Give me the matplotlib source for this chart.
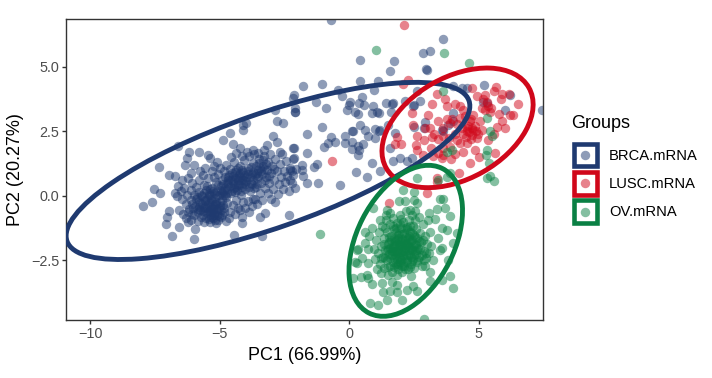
# PCA scatter with group ellipses
import matplotlib
matplotlib.use('Agg')
import matplotlib.pyplot as plt
import numpy as np
from matplotlib.legend_handler import HandlerBase
from matplotlib.lines import Line2D
from matplotlib.patches import Ellipse, Rectangle

plt.rcParams['font.family'] = ['Liberation Sans', 'DejaVu Sans']

groups = ['BRCA.mRNA', 'LUSC.mRNA', 'OV.mRNA']
colors = ['#1F3A70', '#D0071A', '#0A8044']

# values (PC1, PC2)
brca_sparse = [
    (-7.94, -0.39), (-7.61, -0.23), (-7.53, 0.28), (-7.35, 1.11), (-7.30, 0.13), (-6.95, 0.83),
    (-6.71, 0.77), (-6.59, 1.94), (-6.17, 1.72), (-5.78, 1.69), (-6.27, 1.46), (-6.33, 1.20),
    (-5.99, 1.20), (-5.43, 1.59), (-5.37, 1.46), (-4.85, 2.17), (-4.60, 2.43), (-4.49, 2.01),
    (-4.11, 2.75), (-3.98, 2.84), (-4.08, 2.56), (-4.21, 1.85), (-3.18, 1.98), (-2.92, 2.32),
    (-2.77, 2.10), (-2.79, 2.92), (-2.54, 2.84), (-2.86, 3.33), (-2.09, 3.27), (-2.67, 1.72),
    (-2.15, 1.85), (-7.07, -1.09), (-7.02, -0.80), (-6.96, -0.58), (-6.57, -1.19), (-6.82, -1.54),
    (-5.97, -1.68), (-5.94, -1.29), (-6.20, -1.00), (-4.44, -1.53), (-3.35, -1.55), (-4.15, -1.06),
    (-4.15, -0.80), (-3.44, -0.80), (-3.25, -0.67), (-2.31, -0.74),
]
brca_dense = [
    (-6.72, 0.10), (-6.65, -0.02), (-6.50, 0.18), (-6.44, -0.12), (-6.38, 0.30), (-6.30, -0.30),
    (-6.25, 0.05), (-6.18, -0.52), (-6.12, 0.22), (-6.10, -0.15), (-6.05, -0.70), (-6.00, 0.02),
    (-5.95, -0.38), (-5.90, 0.35), (-5.88, -0.05), (-5.82, -0.62), (-5.78, 0.15), (-5.75, -0.28),
    (-5.70, -0.80), (-5.66, 0.00), (-5.62, -0.48), (-5.60, 0.42), (-5.55, -0.15), (-5.52, 0.22),
    (-5.50, -0.68), (-5.46, -0.32), (-5.42, 0.05), (-5.40, -0.88), (-5.36, -0.55), (-5.32, -0.10),
    (-5.30, 0.30), (-5.26, -0.38), (-5.22, -0.75), (-5.20, 0.12), (-5.15, -0.22), (-5.12, 0.55),
    (-5.10, -0.60), (-5.06, -0.92), (-5.02, 0.02), (-5.00, -0.40), (-4.96, 0.38), (-4.92, -0.15),
    (-4.90, -0.72), (-4.85, 0.20), (-4.82, -0.48), (-4.78, 0.72), (-4.74, -0.05), (-4.70, -0.28),
    (-4.66, 0.45), (-4.60, -0.62), (-4.56, 0.10), (-4.52, 0.88), (-4.48, -0.35), (-4.44, 0.30),
    (-6.40, -0.70), (-6.55, -0.55), (-6.28, -0.85), (-6.10, -0.95), (-5.85, -0.98), (-5.60, -1.02),
    (-5.35, -1.00), (-5.15, -1.05), (-6.05, 0.50), (-6.20, 0.70), (-5.80, 0.62), (-5.65, 0.80),
    (-5.45, 0.70), (-5.30, 0.95), (-5.22, 0.72), (-5.05, 0.85), (-4.98, 1.10), (-4.90, 0.62),
    (-4.82, 0.95), (-4.75, 1.20), (-4.68, 0.60), (-4.62, 0.82), (-4.58, 1.05), (-4.50, 0.55),
    (-4.46, 1.32), (-4.42, 0.70), (-4.38, 1.00), (-4.34, 0.22), (-4.30, 0.48), (-4.26, 0.80),
    (-4.22, 1.18), (-4.18, 0.05), (-4.15, 0.35), (-4.12, 0.62), (-4.08, 0.92), (-4.04, 1.38),
    (-4.00, 0.45), (-3.96, 0.72), (-3.92, 1.08), (-3.88, 1.55), (-3.84, 0.18), (-3.80, 0.52),
    (-3.76, 0.85), (-3.72, 1.28), (-3.68, 1.62), (-3.64, -0.10), (-3.60, 0.35), (-3.56, 0.68),
    (-3.52, 1.02), (-3.48, 1.42), (-3.44, 0.12), (-3.40, 0.50), (-3.36, 0.85), (-3.32, 1.18),
    (-3.28, 1.55), (-3.24, 0.30), (-3.20, 0.72), (-3.16, 1.02), (-3.12, 1.32), (-3.08, 0.52),
    (-3.04, 1.62), (-3.00, 0.88), (-2.96, 1.18), (-2.92, 0.25), (-2.88, 0.62), (-2.84, 1.42),
    (-2.80, 0.95), (-2.76, 0.08), (-2.72, 0.45), (-2.68, 1.22), (-2.62, 0.72), (-2.58, 1.62),
    (-2.54, 0.28), (-2.50, 0.95), (-2.46, 0.55), (-2.42, 1.35), (-2.38, 0.78), (-2.32, 0.18),
    (-2.28, 1.10), (-2.22, 0.52), (-2.18, 1.45), (-2.15, 0.82), (-2.10, 0.30), (-2.05, 1.05),
    (-3.92, -0.20), (-3.75, -0.38), (-4.40, -0.70), (-4.75, -0.98), (-4.62, -0.85), (-4.30, -0.45),
    (-4.10, -0.25), (-5.72, 0.05), (-5.48, -0.45), (-5.58, -0.20), (-5.28, -0.62), (-5.18, -0.30),
    (-5.40, 0.12), (-5.08, 0.18), (-4.88, 0.05), (-4.70, 0.28), (-4.40, 0.15), (-4.28, 0.62),
    (-4.20, 0.90), (-4.05, 0.60), (-3.90, 0.85), (-3.70, 0.60), (-3.55, 0.90), (-3.42, 1.10),
    (-3.22, 1.25), (-3.10, 0.78), (-2.90, 1.05), (-5.65, -0.60), (-5.38, -0.72), (-5.12, -0.50),
    (-5.25, -0.85), (-4.95, -0.55), (-5.78, -0.42), (-6.02, -0.48), (-6.22, -0.62),
]
brca_core = [
    (-5.80, -0.20), (-5.74, -0.55), (-5.68, -0.30), (-5.64, -0.72), (-5.60, 0.10), (-5.56, -0.42),
    (-5.52, -0.85), (-5.48, -0.12), (-5.44, -0.58), (-5.42, -0.25), (-5.38, 0.02), (-5.34, -0.42),
    (-5.32, -0.80), (-5.28, -0.18), (-5.26, -0.52), (-5.24, 0.18), (-5.20, -0.65), (-5.18, -0.08),
    (-5.16, -0.92), (-5.12, -0.32), (-5.10, -0.72), (-5.08, 0.05), (-5.04, -0.48), (-5.02, -0.78),
    (-4.98, -0.22), (-4.94, -0.82), (-4.92, 0.12), (-4.88, -0.35), (-4.84, -0.62), (-4.80, 0.32),
    (-4.78, 0.02), (-4.72, 0.52), (-4.66, 0.72), (-4.60, 0.38), (-4.56, 0.62), (-4.52, 0.18),
    (-4.48, 0.78), (-4.44, 0.48), (-4.40, 0.92), (-4.36, 0.35), (-4.32, 0.68), (-4.28, 1.08),
    (-4.24, 0.42), (-4.20, 0.72), (-4.16, 0.18), (-4.12, 1.02), (-4.08, 0.50), (-4.04, 0.80),
    (-4.00, 0.25), (-3.96, 0.58), (-3.92, 0.98), (-3.88, 0.35), (-3.84, 0.72), (-3.80, 1.12),
    (-3.76, 0.45), (-3.72, 0.92), (-3.68, 0.30), (-3.64, 0.80), (-3.60, 1.18), (-3.56, 0.48),
    (-3.50, 0.78), (-3.46, 1.28), (-3.40, 0.95), (-3.34, 1.38), (-3.30, 1.05), (-3.26, 0.62),
    (-4.85, 0.48), (-4.95, 0.22), (-5.05, 0.42), (-4.72, 0.12), (-5.50, 0.38), (-5.92, -0.12),
    (-6.08, -0.32), (-5.98, -0.72), (-5.85, -0.52), (-5.35, 0.25),
]
brca_spread = [
    (-4.35, -0.15), (-4.20, -0.55), (-4.02, -0.48), (-3.85, -0.62), (-3.70, -0.12), (-3.55, -0.30),
    (-3.38, -0.15), (-3.12, 0.10), (-3.02, -0.10), (-2.85, -0.25), (-4.55, 1.52), (-4.38, 1.68),
    (-4.15, 1.55), (-3.95, 1.72), (-3.72, 1.78), (-3.50, 1.68), (-3.30, 1.78), (-5.10, 1.32),
    (-5.22, 1.18), (-5.55, 1.08), (-5.75, 0.98), (-6.10, 0.88), (-6.45, 0.62), (-6.60, 0.40),
]
brca_right = [
    (-0.71, 6.83), (3.63, 6.08), (2.87, 5.56), (3.14, 5.62), (0.41, 5.26), (1.74, 5.22),
    (1.59, 4.86), (2.96, 4.93), (3.00, 4.89), (-1.77, 4.26), (-1.06, 4.33), (-2.13, 3.92),
    (-2.15, 3.79), (-2.10, 3.27), (-2.09, 3.40), (-1.28, 3.64), (-0.89, 3.40), (-0.41, 4.11),
    (-0.29, 3.88), (0.42, 4.47), (1.13, 4.44), (0.98, 4.10), (0.49, 3.85), (0.04, 3.64),
    (0.01, 3.53), (-0.07, 3.32), (0.40, 3.61), (0.58, 3.53), (0.24, 3.27), (0.35, 3.17),
    (0.94, 3.47), (0.87, 3.21), (1.07, 3.27), (1.14, 3.20), (1.41, 3.61), (1.65, 3.56),
    (1.68, 3.60), (1.63, 3.27), (2.16, 3.69), (2.46, 3.47), (2.51, 3.51), (2.74, 3.69),
    (2.61, 4.07), (4.03, 4.28), (4.35, 4.20), (4.54, 4.18), (4.03, 3.21), (5.22, 4.31),
    (5.18, 3.66), (5.31, 3.60), (6.21, 3.92), (6.02, 3.34), (7.46, 3.34), (0.42, 2.76),
    (-1.06, 2.67), (-1.64, 2.39), (0.10, 2.52), (0.16, 2.50), (-0.16, 2.34), (0.62, 2.56),
    (0.72, 2.33), (1.00, 2.60), (1.17, 2.52), (1.20, 2.56), (1.52, 2.76), (1.00, 2.24),
    (1.58, 1.85), (0.55, 2.01), (0.10, 2.11), (-0.16, 2.05), (0.36, 1.92), (0.10, 1.81),
    (0.40, 1.79), (0.33, 1.60), (-0.71, 2.27), (-0.80, 2.05), (-0.54, 2.09), (-0.97, 1.88),
    (-2.13, 1.85), (-1.64, 1.68), (-2.13, 1.46), (-1.82, 1.20), (-1.82, 1.01), (-1.77, 0.78),
    (-1.25, 1.24), (-1.35, 1.12), (-2.28, 1.01), (-2.28, 0.62), (-2.22, 0.95), (-1.64, 0.50),
    (-1.19, 0.52), (-0.35, 0.43), (0.27, 0.91), (0.68, 0.74), (0.87, 1.27), (1.20, 0.97),
    (1.71, 1.34), (1.97, 1.46), (2.22, 1.34), (2.42, 1.46), (2.93, 2.86), (2.89, 2.63),
    (2.51, 2.69), (3.64, 2.50), (3.83, 2.76), (4.03, 2.89), (3.58, 2.56), (1.77, 2.43),
]

lusc_points = [
    (2.12, 6.61), (2.26, 4.50), (2.10, 4.33), (3.40, 3.94), (3.70, 3.76), (3.19, 3.56),
    (2.43, 3.21), (3.06, 3.14), (3.77, 3.47), (4.09, 3.56), (4.28, 3.50), (4.41, 3.34),
    (4.73, 4.20), (4.95, 3.87), (5.25, 3.92), (5.67, 4.24), (5.60, 4.05), (5.89, 3.95),
    (5.85, 3.76), (6.19, 3.96), (6.52, 3.57), (5.31, 3.64), (5.38, 3.47), (5.25, 3.34),
    (5.44, 3.27), (5.12, 3.40), (5.50, 3.40), (5.79, 3.17), (6.21, 3.14), (6.32, 3.12),
    (5.89, 2.89), (5.73, 2.69), (6.02, 2.63), (4.80, 3.14), (4.67, 2.89), (4.54, 2.63),
    (5.06, 2.89), (4.28, 3.02), (3.77, 2.99), (3.45, 2.91), (3.90, 2.82), (3.64, 2.63),
    (2.46, 2.76), (2.93, 2.63), (3.12, 2.63), (2.61, 2.34), (2.89, 2.18), (3.19, 2.27),
    (3.45, 2.21), (3.87, 2.24), (4.16, 2.18), (4.54, 2.50), (4.80, 2.56), (5.12, 2.56),
    (4.93, 2.24), (4.73, 2.37), (4.28, 2.05), (4.54, 2.05), (1.84, 2.30), (1.77, 2.00),
    (2.00, 2.02), (2.58, 1.98), (2.61, 1.79), (-0.67, 1.34), (4.39, 1.70), (4.86, 1.79),
    (5.64, 1.68), (4.68, 1.28), (3.94, 1.44), (3.58, 1.46), (3.64, 1.60), (3.25, 1.53),
    (3.45, 1.66), (4.25, 0.87), (3.38, 0.69), (3.40, 0.55), (1.54, -0.28), (3.01, 0.11),
    (5.18, 3.75), (4.48, 3.08), (4.60, 2.72), (4.85, 2.72),
    (4.98, 2.42), (4.40, 2.40), (4.10, 2.42), (3.62, 2.32), (3.30, 2.40), (4.70, 2.20),
    (4.72, 3.00), (4.62, 2.46), (4.75, 2.65), (4.90, 2.50), (4.50, 2.30), (4.35, 2.62),
    (4.18, 2.78), (3.98, 3.00), (3.62, 1.85), (3.90, 1.90), (4.10, 1.62), (5.02, 1.50),
    (5.35, 2.15), (5.58, 2.40), (3.15, 1.85), (2.85, 1.60),
]

ov_points = [
    (1.03, 5.66), (3.67, 5.56), (4.63, 5.17), (3.61, 4.07), (5.31, 3.02), (5.44, 2.50),
    (5.53, 2.33), (5.31, 1.79), (5.27, 1.60), (5.42, 1.27), (5.31, 0.69), (5.44, 0.78),
    (5.60, 0.56), (3.77, 1.72), (3.99, 1.79), (2.61, 0.69), (3.45, 0.62), (3.77, 0.75),
    (3.90, 0.88), (-1.13, -1.47), (2.91, -4.78), (4.00, -3.57), (3.88, -3.10), (3.58, -3.25),
    (0.81, -4.16), (1.13, -4.22), (1.46, -4.05), (2.04, -4.03), (1.33, -3.73), (1.58, -3.68),
    (1.84, -3.73), (2.23, -3.66), (2.46, -3.51), (2.64, -3.68), (3.13, -3.28), (0.17, -3.19),
    (0.47, -3.15), (0.68, -3.06), (0.75, -3.19), (0.88, -3.41), (1.26, -3.38), (1.65, -3.32),
    (1.84, -3.44), (0.30, -2.09), (0.36, -2.06), (0.23, -2.58), (0.49, -2.41), (0.30, -2.60),
    (0.75, -2.60), (0.62, -1.38), (0.88, -1.25), (0.79, -1.57), (0.62, -1.83), (0.75, -2.06),
    (0.94, -0.47), (1.46, -0.54), (1.43, -0.73), (1.58, -0.67), (1.20, -0.93), (1.91, -0.18),
    (2.16, -0.21), (2.49, -0.15), (2.61, -0.28), (2.36, -0.54), (2.55, -0.60), (2.10, 0.24),
    (2.49, 0.15), (3.52, -0.12), (3.64, -0.12), (3.39, -0.51), (3.71, -0.47), (3.07, -0.67),
    (3.90, -0.77), (3.32, -0.90), (3.58, -1.25), (3.77, -1.31), (3.45, -1.64), (4.03, -1.83),
    (4.16, -1.44), (3.58, -2.02), (3.52, -2.09), (3.84, -2.48), (3.26, -2.48), (2.94, -2.73),
    (3.13, -2.93), (2.40, -3.10),
]
ov_dense = [
    (0.95, -2.05), (1.00, -2.45), (1.05, -1.70), (1.08, -2.85), (1.12, -2.20), (1.15, -1.40),
    (1.18, -2.62), (1.22, -1.95), (1.25, -3.00), (1.28, -1.15), (1.30, -2.35), (1.34, -1.62),
    (1.36, -2.78), (1.40, -2.10), (1.42, -0.95), (1.45, -1.40), (1.48, -2.50), (1.50, -3.08),
    (1.52, -1.85), (1.55, -2.25), (1.58, -1.10), (1.60, -2.70), (1.62, -1.55), (1.65, -2.95),
    (1.68, -2.02), (1.70, -0.85), (1.72, -2.40), (1.75, -1.30), (1.78, -1.75), (1.80, -2.62),
    (1.82, -2.15), (1.85, -3.05), (1.86, -1.05), (1.88, -1.52), (1.90, -2.82), (1.92, -1.92),
    (1.94, -2.35), (1.96, -0.75), (1.98, -2.55), (2.00, -1.25), (2.02, -2.05), (2.04, -1.68),
    (2.06, -2.95), (2.08, -2.30), (2.10, -1.02), (2.12, -1.45), (2.14, -2.72), (2.16, -1.85),
    (2.18, -2.15), (2.20, -0.60), (2.22, -2.48), (2.24, -1.22), (2.26, -1.62), (2.28, -2.85),
    (2.30, -1.98), (2.32, -0.92), (2.34, -2.28), (2.36, -1.40), (2.38, -2.62), (2.40, -1.75),
    (2.42, -0.72), (2.44, -2.08), (2.46, -1.15), (2.48, -2.45), (2.50, -1.52), (2.52, -2.78),
    (2.54, -1.88), (2.56, -0.95), (2.58, -2.25), (2.60, -1.30), (2.62, -2.58), (2.64, -1.65),
    (2.66, -2.00), (2.70, -0.82), (2.72, -2.35), (2.74, -1.42), (2.78, -1.80), (2.80, -2.70),
    (2.84, -1.10), (2.88, -2.12), (2.92, -1.55), (2.96, -2.42), (3.00, -1.85), (3.04, -0.95),
    (3.08, -2.22), (3.12, -1.38), (3.18, -1.95), (1.55, -1.60), (1.70, -1.90), (1.85, -2.20),
    (2.00, -2.50), (2.15, -1.70), (2.30, -2.10), (1.65, -2.30), (1.80, -1.40), (1.95, -1.10),
    (2.10, -2.60), (2.25, -1.30), (2.35, -2.75), (1.75, -2.75), (1.60, -2.00), (1.90, -1.65),
    (2.05, -1.95), (2.20, -2.30), (2.45, -1.70), (2.55, -2.15), (1.45, -2.15), (1.35, -1.85),
    (1.70, -1.15), (1.85, -2.45), (2.00, -0.90), (2.15, -2.85), (2.30, -1.55), (2.60, -1.90),
    (1.50, -2.75), (1.40, -1.25), (1.25, -2.40), (2.75, -2.05), (2.85, -1.70), (1.95, -1.85),
    (2.08, -2.15), (1.82, -1.85), (2.22, -1.85), (1.72, -2.12), (2.38, -2.38), (1.88, -2.62),
]
ov_core = [
    (1.50, -2.05), (1.55, -1.80), (1.58, -2.40), (1.62, -1.70), (1.65, -2.15), (1.68, -2.55),
    (1.72, -1.62), (1.75, -1.95), (1.78, -2.30), (1.80, -1.25), (1.84, -1.70), (1.86, -2.70),
    (1.90, -2.08), (1.92, -1.45), (1.95, -2.42), (1.98, -1.75), (2.00, -2.18), (2.03, -1.48),
    (2.06, -2.72), (2.10, -1.82), (2.12, -2.40), (2.15, -1.25), (2.18, -2.02), (2.20, -1.58),
    (2.23, -2.55), (2.26, -1.95), (2.28, -2.30), (2.32, -1.72), (2.35, -1.18), (2.38, -2.00),
    (2.42, -2.52), (2.45, -1.42), (2.48, -1.95), (2.52, -2.30), (2.56, -1.60), (2.62, -2.08),
    (2.68, -2.50), (2.70, -1.75), (2.82, -2.30), (2.88, -2.50), (2.98, -2.20), (1.38, -2.42),
]

# ellipse centre and size in data units
ellipse_center = [(-3.13, 0.97), (4.19, 2.64), (2.19, -1.74)]
ellipse_width = [16.45, 6.33, 6.28]
ellipse_height = [4.43, 3.94, 3.75]
ellipse_angle = [19.35, 29.6, 63.2]

xticks = [-10, -5, 0, 5]
yticks = [-2.5, 0.0, 2.5, 5.0]


class KeyHandler(HandlerBase):
    def create_artists(self, legend, orig_handle, xdescent, ydescent, width, height, fontsize, trans):
        c = orig_handle.get_color()
        side = 16.2
        x0 = -xdescent + width - side
        y0 = -ydescent + height / 2 - side / 2
        box = Rectangle((x0, y0), side, side, facecolor='white',
                        edgecolor=c, linewidth=3.3, transform=trans)
        dot = Line2D([x0 + side / 2], [y0 + side / 2], marker='o', color=c,
                     alpha=0.5, markersize=6.8, markeredgewidth=0, linestyle='None', transform=trans)
        return [box, dot]


fig = plt.figure(figsize=(7.12, 3.78), dpi=100)
ax = fig.add_axes([66 / 712, 1 - 320 / 378, 477 / 712, 301 / 378])

point_sets = [brca_sparse + brca_dense + brca_core + brca_spread + brca_right, lusc_points,
              ov_points + ov_dense + ov_core]
for pts, c in zip(point_sets, colors):
    pts = np.array(pts)
    ax.scatter(pts[:, 0], pts[:, 1], s=46, color=c, alpha=0.5, linewidths=0, zorder=2)

for i, c in enumerate(colors):
    ax.add_patch(Ellipse(ellipse_center[i], ellipse_width[i], ellipse_height[i], angle=ellipse_angle[i],
                         fill=False, edgecolor=c, linewidth=3.5, zorder=3))

ax.set_xlim(-10.93, 7.49)
ax.set_ylim(-4.81, 6.86)
ax.set_xticks(xticks)
ax.set_xticklabels(['\u2212' + str(abs(t)) if t < 0 else str(t) for t in xticks])
ax.set_yticks(yticks)
ax.set_yticklabels(['\u2212' + str(abs(t)) if t < 0 else str(t) for t in yticks])
ax.tick_params(length=3, width=1, color='#333333', labelcolor='#4D4D4D', labelsize=10.4, pad=2)
for s in ax.spines.values():
    s.set_color('#333333')
    s.set_linewidth(1)
ax.set_xlabel('PC1 (66.99%)', fontsize=13, labelpad=4)
ax.set_ylabel('PC2 (20.27%)', fontsize=13, labelpad=5)

handles = [Line2D([], [], color=c) for c in colors]
leg = fig.legend(handles, groups, title='Groups', handler_map={Line2D: KeyHandler()},
                 loc='upper left', bbox_to_anchor=(571 / 712, 1 - 115 / 378), frameon=False,
                 fontsize=10.6, title_fontsize=13, handlelength=1.74, handleheight=1.83,
                 labelspacing=0.5, handletextpad=0.85, borderpad=0, borderaxespad=0, alignment='left')
leg._legend_box.sep = 8.8

fig.savefig('out.png', dpi=100)
